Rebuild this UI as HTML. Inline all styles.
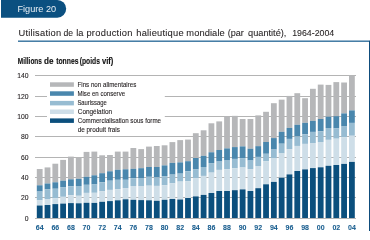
<!DOCTYPE html>
<html><head><meta charset="utf-8">
<style>
html,body{margin:0;padding:0;background:#fff;width:370px;height:231px;overflow:hidden}
svg{display:block;font-family:"Liberation Sans",sans-serif;will-change:transform}
</style></head><body>
<svg width="370" height="231" viewBox="0 0 370 231">
<path d="M1 0 H57.35 A8.85 8.85 0 0 1 66.2 8.85 V8.85 A8.85 8.85 0 0 1 57.35 17.7 H1 Z" fill="#0b5080"/>
<rect x="18" y="40.5" width="351" height="1.4" fill="#33709d"/>
<rect x="369" y="40.5" width="1" height="190.5" fill="#0e4c7c"/>
<rect x="35" y="218" width="321" height="1" fill="#b4b4b4"/>
<rect x="35" y="197" width="321" height="1" fill="#b4b4b4"/>
<rect x="35" y="177" width="321" height="1" fill="#b4b4b4"/>
<rect x="35" y="157" width="321" height="1" fill="#b4b4b4"/>
<rect x="35" y="136" width="321" height="1" fill="#b4b4b4"/>
<rect x="35" y="116" width="321" height="1" fill="#b4b4b4"/>
<rect x="35" y="96" width="321" height="1" fill="#b4b4b4"/>
<rect x="35" y="75" width="321" height="1" fill="#b4b4b4"/>
<rect x="47" y="79" width="117.80000000000001" height="56" fill="#fff"/>
<rect x="50" y="82.30" width="23.90" height="4.5" fill="#b6b7b9"/>
<rect x="50" y="91.30" width="23.90" height="4.5" fill="#4a87ad"/>
<rect x="50" y="100.90" width="23.90" height="4.5" fill="#97bcd2"/>
<rect x="50" y="109.50" width="23.90" height="4.5" fill="#cedee8"/>
<rect x="50" y="118.40" width="23.90" height="4.5" fill="#0b4f7d"/>
<rect x="36.80" y="169.02" width="5.8" height="16.28" fill="#b6b7b9"/>
<rect x="36.80" y="185.30" width="5.8" height="6.26" fill="#4a87ad"/>
<rect x="36.80" y="191.56" width="5.8" height="8.86" fill="#97bcd2"/>
<rect x="36.80" y="200.42" width="5.8" height="5.10" fill="#cedee8"/>
<rect x="36.80" y="205.52" width="5.8" height="12.48" fill="#0b4f7d"/>
<rect x="44.60" y="167.42" width="5.8" height="16.08" fill="#b6b7b9"/>
<rect x="44.60" y="183.50" width="5.8" height="5.92" fill="#4a87ad"/>
<rect x="44.60" y="189.42" width="5.8" height="9.72" fill="#97bcd2"/>
<rect x="44.60" y="199.14" width="5.8" height="5.88" fill="#cedee8"/>
<rect x="44.60" y="205.02" width="5.8" height="12.98" fill="#0b4f7d"/>
<rect x="52.41" y="163.72" width="5.8" height="18.58" fill="#b6b7b9"/>
<rect x="52.41" y="182.30" width="5.8" height="6.44" fill="#4a87ad"/>
<rect x="52.41" y="188.74" width="5.8" height="9.60" fill="#97bcd2"/>
<rect x="52.41" y="198.34" width="5.8" height="5.76" fill="#cedee8"/>
<rect x="52.41" y="204.10" width="5.8" height="13.90" fill="#0b4f7d"/>
<rect x="60.21" y="159.90" width="5.8" height="20.80" fill="#b6b7b9"/>
<rect x="60.21" y="180.70" width="5.8" height="6.40" fill="#4a87ad"/>
<rect x="60.21" y="187.10" width="5.8" height="9.72" fill="#97bcd2"/>
<rect x="60.21" y="196.82" width="5.8" height="6.78" fill="#cedee8"/>
<rect x="60.21" y="203.60" width="5.8" height="14.40" fill="#0b4f7d"/>
<rect x="68.02" y="156.60" width="5.8" height="22.70" fill="#b6b7b9"/>
<rect x="68.02" y="179.30" width="5.8" height="7.10" fill="#4a87ad"/>
<rect x="68.02" y="186.40" width="5.8" height="8.82" fill="#97bcd2"/>
<rect x="68.02" y="195.22" width="5.8" height="7.88" fill="#cedee8"/>
<rect x="68.02" y="203.10" width="5.8" height="14.90" fill="#0b4f7d"/>
<rect x="75.82" y="157.10" width="5.8" height="21.70" fill="#b6b7b9"/>
<rect x="75.82" y="178.80" width="5.8" height="7.20" fill="#4a87ad"/>
<rect x="75.82" y="186.00" width="5.8" height="9.78" fill="#97bcd2"/>
<rect x="75.82" y="195.78" width="5.8" height="7.52" fill="#cedee8"/>
<rect x="75.82" y="203.30" width="5.8" height="14.70" fill="#0b4f7d"/>
<rect x="83.63" y="151.90" width="5.8" height="24.90" fill="#b6b7b9"/>
<rect x="83.63" y="176.80" width="5.8" height="8.00" fill="#4a87ad"/>
<rect x="83.63" y="184.80" width="5.8" height="8.10" fill="#97bcd2"/>
<rect x="83.63" y="192.90" width="5.8" height="9.90" fill="#cedee8"/>
<rect x="83.63" y="202.80" width="5.8" height="15.20" fill="#0b4f7d"/>
<rect x="91.44" y="151.60" width="5.8" height="23.70" fill="#b6b7b9"/>
<rect x="91.44" y="175.30" width="5.8" height="9.16" fill="#4a87ad"/>
<rect x="91.44" y="184.46" width="5.8" height="8.34" fill="#97bcd2"/>
<rect x="91.44" y="192.80" width="5.8" height="10.10" fill="#cedee8"/>
<rect x="91.44" y="202.90" width="5.8" height="15.10" fill="#0b4f7d"/>
<rect x="99.24" y="155.30" width="5.8" height="17.90" fill="#b6b7b9"/>
<rect x="99.24" y="173.20" width="5.8" height="9.10" fill="#4a87ad"/>
<rect x="99.24" y="182.30" width="5.8" height="8.90" fill="#97bcd2"/>
<rect x="99.24" y="191.20" width="5.8" height="10.60" fill="#cedee8"/>
<rect x="99.24" y="201.80" width="5.8" height="16.20" fill="#0b4f7d"/>
<rect x="107.05" y="155.00" width="5.8" height="16.30" fill="#b6b7b9"/>
<rect x="107.05" y="171.30" width="5.8" height="9.42" fill="#4a87ad"/>
<rect x="107.05" y="180.72" width="5.8" height="9.18" fill="#97bcd2"/>
<rect x="107.05" y="189.90" width="5.8" height="11.20" fill="#cedee8"/>
<rect x="107.05" y="201.10" width="5.8" height="16.90" fill="#0b4f7d"/>
<rect x="114.85" y="151.60" width="5.8" height="18.20" fill="#b6b7b9"/>
<rect x="114.85" y="169.80" width="5.8" height="10.00" fill="#4a87ad"/>
<rect x="114.85" y="179.80" width="5.8" height="9.40" fill="#97bcd2"/>
<rect x="114.85" y="189.20" width="5.8" height="11.10" fill="#cedee8"/>
<rect x="114.85" y="200.30" width="5.8" height="17.70" fill="#0b4f7d"/>
<rect x="122.65" y="151.60" width="5.8" height="17.70" fill="#b6b7b9"/>
<rect x="122.65" y="169.30" width="5.8" height="10.50" fill="#4a87ad"/>
<rect x="122.65" y="179.80" width="5.8" height="8.30" fill="#97bcd2"/>
<rect x="122.65" y="188.10" width="5.8" height="11.20" fill="#cedee8"/>
<rect x="122.65" y="199.30" width="5.8" height="18.70" fill="#0b4f7d"/>
<rect x="130.46" y="148.00" width="5.8" height="20.80" fill="#b6b7b9"/>
<rect x="130.46" y="168.80" width="5.8" height="9.40" fill="#4a87ad"/>
<rect x="130.46" y="178.20" width="5.8" height="7.80" fill="#97bcd2"/>
<rect x="130.46" y="186.00" width="5.8" height="13.80" fill="#cedee8"/>
<rect x="130.46" y="199.80" width="5.8" height="18.20" fill="#0b4f7d"/>
<rect x="138.26" y="149.10" width="5.8" height="19.10" fill="#b6b7b9"/>
<rect x="138.26" y="168.20" width="5.8" height="9.80" fill="#4a87ad"/>
<rect x="138.26" y="178.00" width="5.8" height="8.00" fill="#97bcd2"/>
<rect x="138.26" y="186.00" width="5.8" height="14.10" fill="#cedee8"/>
<rect x="138.26" y="200.10" width="5.8" height="17.90" fill="#0b4f7d"/>
<rect x="146.07" y="146.60" width="5.8" height="20.40" fill="#b6b7b9"/>
<rect x="146.07" y="167.00" width="5.8" height="9.80" fill="#4a87ad"/>
<rect x="146.07" y="176.80" width="5.8" height="8.90" fill="#97bcd2"/>
<rect x="146.07" y="185.70" width="5.8" height="14.60" fill="#cedee8"/>
<rect x="146.07" y="200.30" width="5.8" height="17.70" fill="#0b4f7d"/>
<rect x="153.88" y="146.00" width="5.8" height="21.00" fill="#b6b7b9"/>
<rect x="153.88" y="167.00" width="5.8" height="10.30" fill="#4a87ad"/>
<rect x="153.88" y="177.30" width="5.8" height="8.60" fill="#97bcd2"/>
<rect x="153.88" y="185.90" width="5.8" height="14.90" fill="#cedee8"/>
<rect x="153.88" y="200.80" width="5.8" height="17.20" fill="#0b4f7d"/>
<rect x="161.68" y="145.30" width="5.8" height="20.10" fill="#b6b7b9"/>
<rect x="161.68" y="165.40" width="5.8" height="10.70" fill="#4a87ad"/>
<rect x="161.68" y="176.10" width="5.8" height="9.15" fill="#97bcd2"/>
<rect x="161.68" y="185.25" width="5.8" height="14.55" fill="#cedee8"/>
<rect x="161.68" y="199.80" width="5.8" height="18.20" fill="#0b4f7d"/>
<rect x="169.49" y="142.10" width="5.8" height="20.80" fill="#b6b7b9"/>
<rect x="169.49" y="162.90" width="5.8" height="11.71" fill="#4a87ad"/>
<rect x="169.49" y="174.61" width="5.8" height="8.74" fill="#97bcd2"/>
<rect x="169.49" y="183.35" width="5.8" height="15.65" fill="#cedee8"/>
<rect x="169.49" y="199.00" width="5.8" height="19.00" fill="#0b4f7d"/>
<rect x="177.29" y="140.10" width="5.8" height="22.30" fill="#b6b7b9"/>
<rect x="177.29" y="162.40" width="5.8" height="11.24" fill="#4a87ad"/>
<rect x="177.29" y="173.64" width="5.8" height="7.97" fill="#97bcd2"/>
<rect x="177.29" y="181.61" width="5.8" height="17.89" fill="#cedee8"/>
<rect x="177.29" y="199.50" width="5.8" height="18.50" fill="#0b4f7d"/>
<rect x="185.09" y="139.57" width="5.8" height="21.63" fill="#b6b7b9"/>
<rect x="185.09" y="161.20" width="5.8" height="10.10" fill="#4a87ad"/>
<rect x="185.09" y="171.30" width="5.8" height="9.88" fill="#97bcd2"/>
<rect x="185.09" y="181.18" width="5.8" height="16.82" fill="#cedee8"/>
<rect x="185.09" y="198.00" width="5.8" height="20.00" fill="#0b4f7d"/>
<rect x="192.90" y="133.20" width="5.8" height="24.80" fill="#b6b7b9"/>
<rect x="192.90" y="158.00" width="5.8" height="11.46" fill="#4a87ad"/>
<rect x="192.90" y="169.46" width="5.8" height="8.59" fill="#97bcd2"/>
<rect x="192.90" y="178.05" width="5.8" height="18.35" fill="#cedee8"/>
<rect x="192.90" y="196.40" width="5.8" height="21.60" fill="#0b4f7d"/>
<rect x="200.70" y="130.30" width="5.8" height="25.50" fill="#b6b7b9"/>
<rect x="200.70" y="155.80" width="5.8" height="11.20" fill="#4a87ad"/>
<rect x="200.70" y="167.00" width="5.8" height="8.91" fill="#97bcd2"/>
<rect x="200.70" y="175.91" width="5.8" height="18.99" fill="#cedee8"/>
<rect x="200.70" y="194.90" width="5.8" height="23.10" fill="#0b4f7d"/>
<rect x="208.51" y="123.29" width="5.8" height="28.99" fill="#b6b7b9"/>
<rect x="208.51" y="152.28" width="5.8" height="10.82" fill="#4a87ad"/>
<rect x="208.51" y="163.10" width="5.8" height="9.55" fill="#97bcd2"/>
<rect x="208.51" y="172.65" width="5.8" height="20.35" fill="#cedee8"/>
<rect x="208.51" y="193.00" width="5.8" height="25.00" fill="#0b4f7d"/>
<rect x="216.31" y="121.39" width="5.8" height="28.61" fill="#b6b7b9"/>
<rect x="216.31" y="150.00" width="5.8" height="11.56" fill="#4a87ad"/>
<rect x="216.31" y="161.56" width="5.8" height="8.34" fill="#97bcd2"/>
<rect x="216.31" y="169.90" width="5.8" height="21.10" fill="#cedee8"/>
<rect x="216.31" y="191.00" width="5.8" height="27.00" fill="#0b4f7d"/>
<rect x="224.12" y="116.60" width="5.8" height="31.80" fill="#b6b7b9"/>
<rect x="224.12" y="148.40" width="5.8" height="12.16" fill="#4a87ad"/>
<rect x="224.12" y="160.56" width="5.8" height="8.54" fill="#97bcd2"/>
<rect x="224.12" y="169.10" width="5.8" height="21.90" fill="#cedee8"/>
<rect x="224.12" y="191.00" width="5.8" height="27.00" fill="#0b4f7d"/>
<rect x="231.93" y="115.85" width="5.8" height="31.25" fill="#b6b7b9"/>
<rect x="231.93" y="147.10" width="5.8" height="11.80" fill="#4a87ad"/>
<rect x="231.93" y="158.90" width="5.8" height="9.40" fill="#97bcd2"/>
<rect x="231.93" y="168.30" width="5.8" height="21.90" fill="#cedee8"/>
<rect x="231.93" y="190.20" width="5.8" height="27.80" fill="#0b4f7d"/>
<rect x="239.73" y="119.00" width="5.8" height="27.40" fill="#b6b7b9"/>
<rect x="239.73" y="146.40" width="5.8" height="11.70" fill="#4a87ad"/>
<rect x="239.73" y="158.10" width="5.8" height="9.40" fill="#97bcd2"/>
<rect x="239.73" y="167.50" width="5.8" height="21.90" fill="#cedee8"/>
<rect x="239.73" y="189.40" width="5.8" height="28.60" fill="#0b4f7d"/>
<rect x="247.53" y="119.00" width="5.8" height="29.70" fill="#b6b7b9"/>
<rect x="247.53" y="148.70" width="5.8" height="11.86" fill="#4a87ad"/>
<rect x="247.53" y="160.56" width="5.8" height="8.54" fill="#97bcd2"/>
<rect x="247.53" y="169.10" width="5.8" height="21.90" fill="#cedee8"/>
<rect x="247.53" y="191.00" width="5.8" height="27.00" fill="#0b4f7d"/>
<rect x="255.34" y="115.38" width="5.8" height="30.78" fill="#b6b7b9"/>
<rect x="255.34" y="146.16" width="5.8" height="10.74" fill="#4a87ad"/>
<rect x="255.34" y="156.90" width="5.8" height="9.10" fill="#97bcd2"/>
<rect x="255.34" y="166.00" width="5.8" height="22.20" fill="#cedee8"/>
<rect x="255.34" y="188.20" width="5.8" height="29.80" fill="#0b4f7d"/>
<rect x="263.14" y="111.80" width="5.8" height="30.20" fill="#b6b7b9"/>
<rect x="263.14" y="142.00" width="5.8" height="11.78" fill="#4a87ad"/>
<rect x="263.14" y="153.78" width="5.8" height="7.52" fill="#97bcd2"/>
<rect x="263.14" y="161.30" width="5.8" height="23.00" fill="#cedee8"/>
<rect x="263.14" y="184.30" width="5.8" height="33.70" fill="#0b4f7d"/>
<rect x="270.95" y="103.20" width="5.8" height="34.90" fill="#b6b7b9"/>
<rect x="270.95" y="138.10" width="5.8" height="11.46" fill="#4a87ad"/>
<rect x="270.95" y="149.56" width="5.8" height="8.90" fill="#97bcd2"/>
<rect x="270.95" y="158.46" width="5.8" height="23.44" fill="#cedee8"/>
<rect x="270.95" y="181.90" width="5.8" height="36.10" fill="#0b4f7d"/>
<rect x="278.75" y="99.65" width="5.8" height="32.15" fill="#b6b7b9"/>
<rect x="278.75" y="131.80" width="5.8" height="11.91" fill="#4a87ad"/>
<rect x="278.75" y="143.71" width="5.8" height="9.75" fill="#97bcd2"/>
<rect x="278.75" y="153.46" width="5.8" height="24.24" fill="#cedee8"/>
<rect x="278.75" y="177.70" width="5.8" height="40.30" fill="#0b4f7d"/>
<rect x="286.56" y="95.92" width="5.8" height="31.98" fill="#b6b7b9"/>
<rect x="286.56" y="127.90" width="5.8" height="11.00" fill="#4a87ad"/>
<rect x="286.56" y="138.90" width="5.8" height="10.20" fill="#97bcd2"/>
<rect x="286.56" y="149.10" width="5.8" height="25.30" fill="#cedee8"/>
<rect x="286.56" y="174.40" width="5.8" height="43.60" fill="#0b4f7d"/>
<rect x="294.37" y="93.20" width="5.8" height="31.60" fill="#b6b7b9"/>
<rect x="294.37" y="124.80" width="5.8" height="11.61" fill="#4a87ad"/>
<rect x="294.37" y="136.41" width="5.8" height="9.54" fill="#97bcd2"/>
<rect x="294.37" y="145.95" width="5.8" height="25.05" fill="#cedee8"/>
<rect x="294.37" y="171.00" width="5.8" height="47.00" fill="#0b4f7d"/>
<rect x="302.17" y="98.20" width="5.8" height="24.65" fill="#b6b7b9"/>
<rect x="302.17" y="122.85" width="5.8" height="11.50" fill="#4a87ad"/>
<rect x="302.17" y="134.35" width="5.8" height="9.55" fill="#97bcd2"/>
<rect x="302.17" y="143.90" width="5.8" height="25.50" fill="#cedee8"/>
<rect x="302.17" y="169.40" width="5.8" height="48.60" fill="#0b4f7d"/>
<rect x="309.98" y="88.80" width="5.8" height="32.10" fill="#b6b7b9"/>
<rect x="309.98" y="120.90" width="5.8" height="11.00" fill="#4a87ad"/>
<rect x="309.98" y="131.90" width="5.8" height="11.16" fill="#97bcd2"/>
<rect x="309.98" y="143.06" width="5.8" height="25.04" fill="#cedee8"/>
<rect x="309.98" y="168.10" width="5.8" height="49.90" fill="#0b4f7d"/>
<rect x="317.78" y="84.60" width="5.8" height="34.40" fill="#b6b7b9"/>
<rect x="317.78" y="119.00" width="5.8" height="12.36" fill="#4a87ad"/>
<rect x="317.78" y="131.36" width="5.8" height="10.64" fill="#97bcd2"/>
<rect x="317.78" y="142.00" width="5.8" height="25.30" fill="#cedee8"/>
<rect x="317.78" y="167.30" width="5.8" height="50.70" fill="#0b4f7d"/>
<rect x="325.58" y="84.90" width="5.8" height="31.80" fill="#b6b7b9"/>
<rect x="325.58" y="116.70" width="5.8" height="11.30" fill="#4a87ad"/>
<rect x="325.58" y="128.00" width="5.8" height="11.85" fill="#97bcd2"/>
<rect x="325.58" y="139.85" width="5.8" height="25.95" fill="#cedee8"/>
<rect x="325.58" y="165.80" width="5.8" height="52.20" fill="#0b4f7d"/>
<rect x="333.39" y="82.10" width="5.8" height="34.10" fill="#b6b7b9"/>
<rect x="333.39" y="116.20" width="5.8" height="12.21" fill="#4a87ad"/>
<rect x="333.39" y="128.41" width="5.8" height="10.29" fill="#97bcd2"/>
<rect x="333.39" y="138.70" width="5.8" height="26.30" fill="#cedee8"/>
<rect x="333.39" y="165.00" width="5.8" height="53.00" fill="#0b4f7d"/>
<rect x="341.19" y="82.50" width="5.8" height="30.90" fill="#b6b7b9"/>
<rect x="341.19" y="113.40" width="5.8" height="13.11" fill="#4a87ad"/>
<rect x="341.19" y="126.51" width="5.8" height="10.79" fill="#97bcd2"/>
<rect x="341.19" y="137.30" width="5.8" height="26.60" fill="#cedee8"/>
<rect x="341.19" y="163.90" width="5.8" height="54.10" fill="#0b4f7d"/>
<rect x="349.00" y="75.50" width="5.8" height="34.90" fill="#b6b7b9"/>
<rect x="349.00" y="110.40" width="5.8" height="12.50" fill="#4a87ad"/>
<rect x="349.00" y="122.90" width="5.8" height="12.86" fill="#97bcd2"/>
<rect x="349.00" y="135.76" width="5.8" height="26.14" fill="#cedee8"/>
<rect x="349.00" y="161.90" width="5.8" height="56.10" fill="#0b4f7d"/>
<text x="17.44" y="11.70" font-size="9.4" font-weight="normal" fill="#eaf0f5" stroke="#eaf0f5" stroke-width="0" textLength="38.64" lengthAdjust="spacingAndGlyphs">Figure 20</text>
<text x="18.46" y="35.80" font-size="9.3" font-weight="normal" fill="#231f20" stroke="#231f20" stroke-width="0.08" textLength="42.61" lengthAdjust="spacing">Utilisation</text>
<text x="63.47" y="35.80" font-size="9.3" font-weight="normal" fill="#231f20" stroke="#231f20" stroke-width="0.08" textLength="9.61" lengthAdjust="spacingAndGlyphs">de</text>
<text x="76.25" y="35.80" font-size="9.3" font-weight="normal" fill="#231f20" stroke="#231f20" stroke-width="0.08" textLength="7.11" lengthAdjust="spacing">la</text>
<text x="86.38" y="35.80" font-size="9.3" font-weight="normal" fill="#231f20" stroke="#231f20" stroke-width="0.08" textLength="46.12" lengthAdjust="spacing">production</text>
<text x="136.27" y="35.80" font-size="9.3" font-weight="normal" fill="#231f20" stroke="#231f20" stroke-width="0.08" textLength="47.28" lengthAdjust="spacing">halieutique</text>
<text x="186.36" y="35.80" font-size="9.3" font-weight="normal" fill="#231f20" stroke="#231f20" stroke-width="0.08" textLength="38.35" lengthAdjust="spacing">mondiale</text>
<text x="227.76" y="35.80" font-size="9.3" font-weight="normal" fill="#231f20" stroke="#231f20" stroke-width="0.08" textLength="16.16" lengthAdjust="spacingAndGlyphs">(par</text>
<text x="248.08" y="35.80" font-size="9.3" font-weight="normal" fill="#231f20" stroke="#231f20" stroke-width="0.08" textLength="38.32" lengthAdjust="spacingAndGlyphs">quantité),</text>
<text x="292.15" y="35.80" font-size="9.3" font-weight="normal" fill="#231f20" stroke="#231f20" stroke-width="0.08" textLength="42.08" lengthAdjust="spacingAndGlyphs">1964-2004</text>
<text x="17.82" y="63.80" font-size="8.2" font-weight="bold" fill="#111" stroke="#111" stroke-width="0.12" textLength="24.08" lengthAdjust="spacingAndGlyphs">Millions</text>
<text x="44.09" y="63.80" font-size="8.2" font-weight="bold" fill="#111" stroke="#111" stroke-width="0.12" textLength="9.49" lengthAdjust="spacingAndGlyphs">de</text>
<text x="56.14" y="63.80" font-size="8.2" font-weight="bold" fill="#111" stroke="#111" stroke-width="0.12" textLength="22.35" lengthAdjust="spacingAndGlyphs">tonnes</text>
<text x="79.78" y="63.80" font-size="8.2" font-weight="bold" fill="#111" stroke="#111" stroke-width="0.12" textLength="20.15" lengthAdjust="spacingAndGlyphs">(poids</text>
<text x="101.94" y="63.80" font-size="8.2" font-weight="bold" fill="#111" stroke="#111" stroke-width="0.12" textLength="11.42" lengthAdjust="spacingAndGlyphs">vif)</text>
<text x="28.60" y="221.35" font-size="8.0" font-weight="normal" fill="#231f20" stroke="#231f20" stroke-width="0.12" text-anchor="end" textLength="3.78" lengthAdjust="spacingAndGlyphs">0</text>
<text x="28.60" y="200.35" font-size="8.0" font-weight="normal" fill="#231f20" stroke="#231f20" stroke-width="0.12" text-anchor="end" textLength="7.56" lengthAdjust="spacingAndGlyphs">20</text>
<text x="28.60" y="180.35" font-size="8.0" font-weight="normal" fill="#231f20" stroke="#231f20" stroke-width="0.12" text-anchor="end" textLength="7.56" lengthAdjust="spacingAndGlyphs">40</text>
<text x="28.60" y="160.35" font-size="8.0" font-weight="normal" fill="#231f20" stroke="#231f20" stroke-width="0.12" text-anchor="end" textLength="7.56" lengthAdjust="spacingAndGlyphs">60</text>
<text x="28.60" y="139.35" font-size="8.0" font-weight="normal" fill="#231f20" stroke="#231f20" stroke-width="0.12" text-anchor="end" textLength="7.56" lengthAdjust="spacingAndGlyphs">80</text>
<text x="28.60" y="119.35" font-size="8.0" font-weight="normal" fill="#231f20" stroke="#231f20" stroke-width="0.12" text-anchor="end" textLength="11.34" lengthAdjust="spacingAndGlyphs">100</text>
<text x="28.60" y="99.35" font-size="8.0" font-weight="normal" fill="#231f20" stroke="#231f20" stroke-width="0.12" text-anchor="end" textLength="11.34" lengthAdjust="spacingAndGlyphs">120</text>
<text x="28.60" y="78.35" font-size="8.0" font-weight="normal" fill="#231f20" stroke="#231f20" stroke-width="0.12" text-anchor="end" textLength="11.34" lengthAdjust="spacingAndGlyphs">140</text>
<text x="39.70" y="230.20" font-size="7.0" font-weight="bold" fill="#175c8e" stroke="#175c8e" stroke-width="0.06" text-anchor="middle" textLength="7.80" lengthAdjust="spacingAndGlyphs">64</text>
<text x="55.31" y="230.20" font-size="7.0" font-weight="bold" fill="#175c8e" stroke="#175c8e" stroke-width="0.06" text-anchor="middle" textLength="7.80" lengthAdjust="spacingAndGlyphs">66</text>
<text x="70.92" y="230.20" font-size="7.0" font-weight="bold" fill="#175c8e" stroke="#175c8e" stroke-width="0.06" text-anchor="middle" textLength="7.80" lengthAdjust="spacingAndGlyphs">68</text>
<text x="86.53" y="230.20" font-size="7.0" font-weight="bold" fill="#175c8e" stroke="#175c8e" stroke-width="0.06" text-anchor="middle" textLength="7.80" lengthAdjust="spacingAndGlyphs">70</text>
<text x="102.14" y="230.20" font-size="7.0" font-weight="bold" fill="#175c8e" stroke="#175c8e" stroke-width="0.06" text-anchor="middle" textLength="7.80" lengthAdjust="spacingAndGlyphs">72</text>
<text x="117.75" y="230.20" font-size="7.0" font-weight="bold" fill="#175c8e" stroke="#175c8e" stroke-width="0.06" text-anchor="middle" textLength="7.80" lengthAdjust="spacingAndGlyphs">74</text>
<text x="133.36" y="230.20" font-size="7.0" font-weight="bold" fill="#175c8e" stroke="#175c8e" stroke-width="0.06" text-anchor="middle" textLength="7.80" lengthAdjust="spacingAndGlyphs">76</text>
<text x="148.97" y="230.20" font-size="7.0" font-weight="bold" fill="#175c8e" stroke="#175c8e" stroke-width="0.06" text-anchor="middle" textLength="7.80" lengthAdjust="spacingAndGlyphs">78</text>
<text x="164.58" y="230.20" font-size="7.0" font-weight="bold" fill="#175c8e" stroke="#175c8e" stroke-width="0.06" text-anchor="middle" textLength="7.80" lengthAdjust="spacingAndGlyphs">80</text>
<text x="180.19" y="230.20" font-size="7.0" font-weight="bold" fill="#175c8e" stroke="#175c8e" stroke-width="0.06" text-anchor="middle" textLength="7.80" lengthAdjust="spacingAndGlyphs">82</text>
<text x="195.80" y="230.20" font-size="7.0" font-weight="bold" fill="#175c8e" stroke="#175c8e" stroke-width="0.06" text-anchor="middle" textLength="7.80" lengthAdjust="spacingAndGlyphs">84</text>
<text x="211.41" y="230.20" font-size="7.0" font-weight="bold" fill="#175c8e" stroke="#175c8e" stroke-width="0.06" text-anchor="middle" textLength="7.80" lengthAdjust="spacingAndGlyphs">86</text>
<text x="227.02" y="230.20" font-size="7.0" font-weight="bold" fill="#175c8e" stroke="#175c8e" stroke-width="0.06" text-anchor="middle" textLength="7.80" lengthAdjust="spacingAndGlyphs">88</text>
<text x="242.63" y="230.20" font-size="7.0" font-weight="bold" fill="#175c8e" stroke="#175c8e" stroke-width="0.06" text-anchor="middle" textLength="7.80" lengthAdjust="spacingAndGlyphs">90</text>
<text x="258.24" y="230.20" font-size="7.0" font-weight="bold" fill="#175c8e" stroke="#175c8e" stroke-width="0.06" text-anchor="middle" textLength="7.80" lengthAdjust="spacingAndGlyphs">92</text>
<text x="273.85" y="230.20" font-size="7.0" font-weight="bold" fill="#175c8e" stroke="#175c8e" stroke-width="0.06" text-anchor="middle" textLength="7.80" lengthAdjust="spacingAndGlyphs">94</text>
<text x="289.46" y="230.20" font-size="7.0" font-weight="bold" fill="#175c8e" stroke="#175c8e" stroke-width="0.06" text-anchor="middle" textLength="7.80" lengthAdjust="spacingAndGlyphs">96</text>
<text x="305.07" y="230.20" font-size="7.0" font-weight="bold" fill="#175c8e" stroke="#175c8e" stroke-width="0.06" text-anchor="middle" textLength="7.80" lengthAdjust="spacingAndGlyphs">98</text>
<text x="320.68" y="230.20" font-size="7.0" font-weight="bold" fill="#175c8e" stroke="#175c8e" stroke-width="0.06" text-anchor="middle" textLength="7.80" lengthAdjust="spacingAndGlyphs">00</text>
<text x="336.29" y="230.20" font-size="7.0" font-weight="bold" fill="#175c8e" stroke="#175c8e" stroke-width="0.06" text-anchor="middle" textLength="7.80" lengthAdjust="spacingAndGlyphs">02</text>
<text x="351.90" y="230.20" font-size="7.0" font-weight="bold" fill="#175c8e" stroke="#175c8e" stroke-width="0.06" text-anchor="middle" textLength="7.80" lengthAdjust="spacingAndGlyphs">04</text>
<text x="77.52" y="87.10" font-size="6.8" font-weight="normal" fill="#231f20" stroke="#231f20" stroke-width="0.1" textLength="58.81" lengthAdjust="spacingAndGlyphs">Fins non alimentaires</text>
<text x="77.47" y="96.13" font-size="6.8" font-weight="normal" fill="#231f20" stroke="#231f20" stroke-width="0.1" textLength="47.58" lengthAdjust="spacingAndGlyphs">Mise en conserve</text>
<text x="77.48" y="105.16" font-size="6.8" font-weight="normal" fill="#231f20" stroke="#231f20" stroke-width="0.1" textLength="29.26" lengthAdjust="spacingAndGlyphs">Saurissage</text>
<text x="77.74" y="114.19" font-size="6.8" font-weight="normal" fill="#231f20" stroke="#231f20" stroke-width="0.1" textLength="34.30" lengthAdjust="spacingAndGlyphs">Congélation</text>
<text x="77.66" y="123.22" font-size="6.8" font-weight="normal" fill="#231f20" stroke="#231f20" stroke-width="0.1" textLength="83.36" lengthAdjust="spacingAndGlyphs">Commercialisation sous forme</text>
<text x="77.64" y="131.90" font-size="6.8" font-weight="normal" fill="#231f20" stroke="#231f20" stroke-width="0.1" textLength="42.36" lengthAdjust="spacingAndGlyphs">de produit frais</text>
</svg>
</body></html>
